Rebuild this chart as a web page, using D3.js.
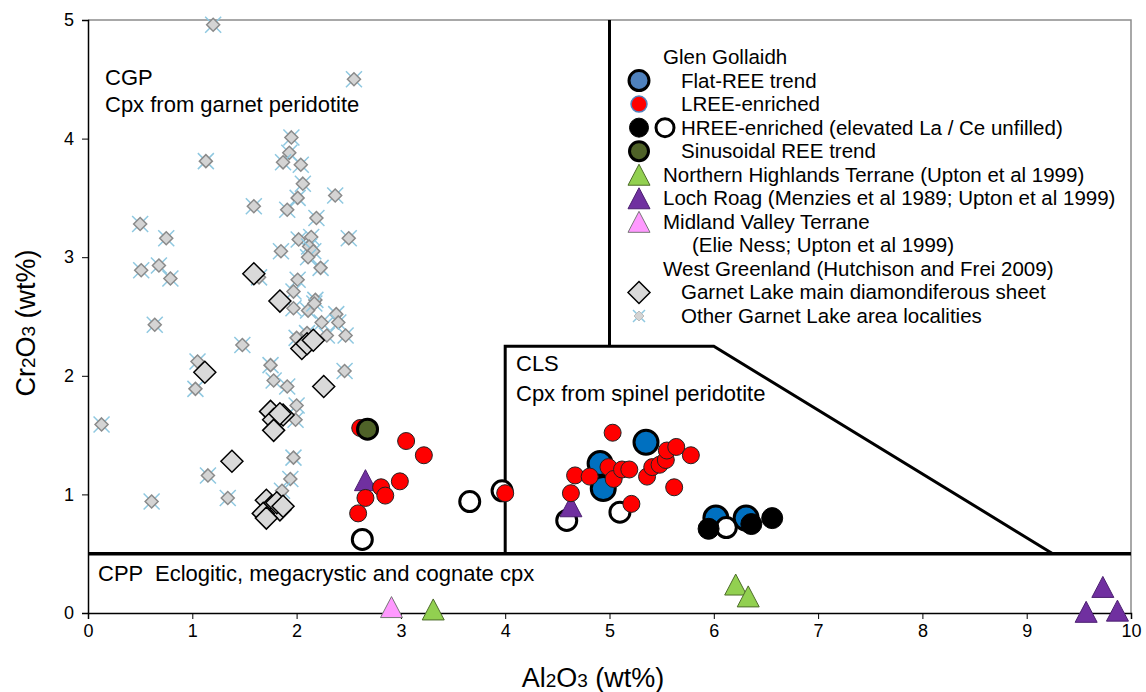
<!DOCTYPE html>
<html>
<head>
<meta charset="utf-8">
<script src="https://cdn.jsdelivr.net/npm/d3@7"></script>
<style>
  body { margin: 0; background: #fff; }
  text { font-family: "Liberation Sans", Arial, sans-serif; fill: #000; }
</style>
</head>
<body>
<svg id="chart"></svg>
<script>
// Al2O3, Cr2O3 (wt%) pairs
const otherGarnetLake = [
  [1.20, 4.96], [2.55, 4.50], [1.95, 4.01], [1.93, 3.88], [1.87, 3.80], [2.04, 3.78],
  [2.06, 3.62], [2.01, 3.50], [2.37, 3.52], [1.91, 3.40], [1.59, 3.43], [1.13, 3.81],
  [2.19, 3.33], [2.50, 3.16], [2.02, 3.15], [2.14, 3.17], [2.12, 3.09], [2.16, 3.05],
  [2.11, 3.00], [2.23, 2.91], [1.85, 3.05], [2.01, 2.81], [1.97, 2.71], [0.50, 3.28],
  [0.75, 3.16], [0.51, 2.89], [0.68, 2.93], [0.79, 2.82], [2.18, 2.64], [1.64, 2.83],
  [1.97, 2.57], [2.11, 2.55], [2.17, 2.61], [2.38, 2.52], [2.40, 2.45], [2.24, 2.45],
  [2.29, 2.34], [2.47, 2.34], [2.00, 2.32], [2.10, 2.36], [0.64, 2.43], [1.48, 2.26],
  [1.05, 2.12], [1.75, 2.09], [1.78, 1.96], [1.91, 1.91], [1.03, 1.89], [2.46, 2.04],
  [2.00, 1.75], [1.99, 1.63], [0.13, 1.59], [1.97, 1.31], [1.15, 1.16], [1.94, 1.13],
  [1.34, 0.97], [0.61, 0.94], [1.86, 1.03]
];
const garnetLakeMain = [
  [1.59, 2.86], [1.84, 2.63], [2.05, 2.23], [2.10, 2.27], [2.16, 2.30], [1.12, 2.03],
  [2.26, 1.91], [1.75, 1.70], [1.78, 1.63], [1.87, 1.67], [1.78, 1.54], [1.84, 1.68],
  [1.38, 1.28], [1.71, 0.95], [1.76, 0.90], [1.84, 0.87], [1.68, 0.84], [1.71, 0.80],
  [1.81, 0.93], [1.87, 0.90]
];
const flatREE = [[5.35, 1.44], [4.91, 1.26], [4.94, 1.05], [6.02, 0.80], [6.31, 0.80]];
const lreeEnriched = [
  [2.61, 1.56], [3.05, 1.45], [3.22, 1.33], [2.99, 1.11], [2.81, 1.06], [2.85, 0.99],
  [2.66, 0.97], [2.59, 0.84], [4.00, 1.01], [5.03, 1.52], [4.67, 1.16], [4.81, 1.15],
  [4.63, 1.01], [4.99, 1.23], [5.04, 1.13], [5.12, 1.21], [5.19, 1.21], [5.21, 0.92],
  [5.36, 1.15], [5.41, 1.23], [5.48, 1.25], [5.54, 1.29], [5.55, 1.37], [5.64, 1.40],
  [5.78, 1.33], [5.62, 1.06]
];
const hreeEnriched = [[5.95, 0.71], [6.36, 0.75], [6.56, 0.80]];
const hreeLaCe = [[2.63, 0.62], [3.66, 0.94], [3.97, 1.03], [5.10, 0.85], [4.59, 0.78], [6.12, 0.72]];
const sinusoidal = [[2.68, 1.55]];
const northernHighlands = [[6.21, 0.24], [6.33, 0.14], [3.31, 0.03]];
const lochRoag = [[2.66, 1.12], [4.63, 0.90], [9.73, 0.22], [9.57, 0.01], [9.87, 0.02]];
const midlandValley = [[2.91, 0.05]];

// field boundaries
const cgpBoundary = [[5, 5], [5, 2.25]];
const clsBoundary = [[4, 0.5], [4, 2.25], [6, 2.25], [9.25, 0.5]];
const cppBoundary = [[0, 0.5], [10, 0.5]];

const xTicks = [0, 1, 2, 3, 4, 5, 6, 7, 8, 9, 10];
const yTicks = [0, 1, 2, 3, 4, 5];

const width = 1146;
const height = 692;
const margin = {top: 20, right: 15, bottom: 79, left: 88};

const svg = d3.select("#chart")
    .attr("width", width)
    .attr("height", height)
    .attr("viewBox", [0, 0, width, height]);

const x = d3.scaleLinear().domain([0, 10]).range([margin.left, width - margin.right]);
const y = d3.scaleLinear().domain([0, 5]).range([height - margin.bottom, margin.top]);

// frame
svg.append("path")
    .attr("d", `M${x(0)},${y(5)}H${x(10)}V${y(0)}`)
    .attr("fill", "none")
    .attr("stroke", "#8c8c8c")
    .attr("stroke-width", 1.5);

svg.append("g")
    .attr("transform", `translate(0,${y(0)})`)
    .call(d3.axisBottom(x).tickValues(xTicks).tickFormat(d3.format("d")).tickSize(6).tickPadding(5))
    .call(g => g.select(".domain").attr("stroke-width", 1.5))
    .call(g => g.selectAll("text").style("font-size", "18px").style("font-family", "Liberation Sans, Arial"));

svg.append("g")
    .attr("transform", `translate(${x(0)},0)`)
    .call(d3.axisLeft(y).tickValues(yTicks).tickFormat(d3.format("d")).tickSize(6).tickPadding(8))
    .call(g => g.select(".domain").attr("stroke-width", 1.5))
    .call(g => g.selectAll("text").style("font-size", "18px").style("font-family", "Liberation Sans, Arial"));

// axis titles
function chemTitle(t, parts) {
    parts.forEach(p => {
        const s = t.append("tspan").text(p);
        if (/^\d$/.test(p)) s.style("font-size", "19px");
    });
}
const xt = svg.append("text")
    .attr("x", 593)
    .attr("y", 687)
    .attr("text-anchor", "middle")
    .style("font-size", "27px");
chemTitle(xt, ["Al", "2", "O", "3", " (wt%)"]);

const yt = svg.append("text")
    .attr("transform", `translate(35,323) rotate(-90)`)
    .attr("text-anchor", "middle")
    .style("font-size", "27px");
chemTitle(yt, ["Cr", "2", "O", "3", " (wt%)"]);

// markers
const diamond = s => `M0,${-s}L${s},0L0,${s}L${-s},0Z`;
const triangle = (w, h) => `M0,${-h / 2}L${w / 2},${h / 2}L${-w / 2},${h / 2}Z`;

function smallDiamond(g) {
    g.append("path").attr("d", "M-8,-8L8,8M-8,8L8,-8").attr("stroke", "#8fc8e0").attr("stroke-width", 1.5);
    g.append("path").attr("d", diamond(6.5)).attr("fill", "#d4d4d4").attr("stroke", "#8a8a8a").attr("stroke-width", 1.5);
}
function bigDiamond(g) {
    g.append("path").attr("d", diamond(11)).attr("fill", "#d9d9d9").attr("stroke", "#000").attr("stroke-width", 1.5);
}
function circle(r, fill, stroke, sw) {
    return g => g.append("circle").attr("r", r).attr("fill", fill).attr("stroke", stroke).attr("stroke-width", sw);
}
function tri(fill, stroke) {
    return g => g.append("path").attr("d", triangle(22, 21)).attr("fill", fill).attr("stroke", stroke).attr("stroke-width", 1);
}

const bottomLayer = svg.append("g");
const lineLayer = svg.append("g");
const topLayer = svg.append("g");

function plot(layer, data, draw) {
    layer.append("g")
        .selectAll("g")
        .data(data)
        .join("g")
        .attr("transform", d => `translate(${x(d[0])},${y(d[1])})`)
        .each(function () { draw(d3.select(this)); });
}

plot(bottomLayer, otherGarnetLake, smallDiamond);
plot(bottomLayer, garnetLakeMain, bigDiamond);

// field boundary lines
const line = d3.line().x(d => x(d[0])).y(d => y(d[1]));
[cgpBoundary, clsBoundary, cppBoundary].forEach(b => {
    lineLayer.append("path")
        .attr("d", line(b))
        .attr("fill", "none")
        .attr("stroke", "#000")
        .attr("stroke-width", b === cppBoundary ? 3.5 : 3);
});

plot(topLayer, flatREE, circle(12, "#0070c0", "#000", 3));
plot(topLayer, hreeLaCe, circle(10, "#fff", "#000", 3));
plot(topLayer, hreeEnriched, circle(10.5, "#000", "#000", 1));
plot(topLayer, northernHighlands, tri("#92d050", "#4d6b2a"));
plot(topLayer, lochRoag, tri("#7030a0", "#4b1f70"));
plot(topLayer, midlandValley, tri("#ff99ff", "#777"));
plot(topLayer, lreeEnriched, circle(8.5, "#ff0000", "#222", 1));
plot(topLayer, sinusoidal, circle(10, "#4f6228", "#000", 3));

// field labels
const fieldLabels = [
    {t: "CGP", x: 105, y: 85},
    {t: "Cpx from garnet peridotite", x: 105, y: 112},
    {t: "CLS", x: 516, y: 371},
    {t: "Cpx from spinel peridotite", x: 516, y: 401},
    {t: "CPP  Eclogitic, megacrystic and cognate cpx", x: 98, y: 581}
];
svg.append("g").selectAll("text").data(fieldLabels).join("text")
    .attr("x", d => d.x).attr("y", d => d.y)
    .style("font-size", "22px")
    .style("white-space", "pre")
    .text(d => d.t);

// legend
const legendRows = [
    {t: "Glen Gollaidh", tx: 663},
    {t: "Flat-REE trend", tx: 681, m: circle(10, "#4f81bd", "#000", 3)},
    {t: "LREE-enriched", tx: 681, m: circle(8, "#ff0000", "#4f81bd", 1.5)},
    {t: "HREE-enriched (elevated La / Ce unfilled)", tx: 681, m: circle(9.5, "#000", "#000", 1), m2: circle(9, "#fff", "#000", 3)},
    {t: "Sinusoidal REE trend", tx: 681, m: circle(9.5, "#4f6228", "#000", 3)},
    {t: "Northern Highlands Terrane (Upton et al 1999)", tx: 663, m: tri("#92d050", "#4d6b2a")},
    {t: "Loch Roag (Menzies et al 1989; Upton et al 1999)", tx: 663, m: tri("#7030a0", "#4b1f70")},
    {t: "Midland Valley Terrane", tx: 663, m: tri("#ff99ff", "#777")},
    {t: "(Elie Ness; Upton et al 1999)", tx: 692},
    {t: "West Greenland (Hutchison and Frei 2009)", tx: 663},
    {t: "Garnet Lake main diamondiferous sheet", tx: 681, m: bigDiamond},
    {t: "Other Garnet Lake area localities", tx: 681, m: g => {
        g.append("path").attr("d", "M-6,-6L6,6M-6,6L6,-6").attr("stroke", "#8fc8e0").attr("stroke-width", 1.5);
        g.append("path").attr("d", diamond(5)).attr("fill", "#d4d4d4").attr("stroke", "#bbb").attr("stroke-width", 1);
    }}
];
const legendY = d3.scalePoint().domain(d3.range(legendRows.length)).range([57, 316]);
const legend = svg.append("g");
legendRows.forEach((r, i) => {
    const cy = legendY(i);
    legend.append("text")
        .attr("x", r.tx).attr("y", cy + 7)
        .style("font-size", "20.5px")
        .text(r.t);
    if (r.m) r.m(legend.append("g").attr("transform", `translate(639,${cy})`));
    if (r.m2) r.m2(legend.append("g").attr("transform", `translate(665,${cy})`));
});
</script>
</body>
</html>
